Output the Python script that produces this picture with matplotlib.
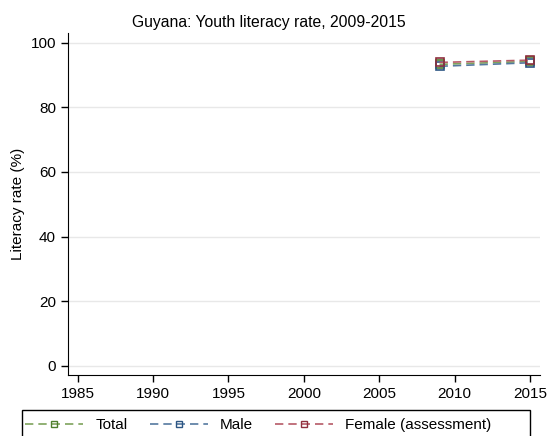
import matplotlib
matplotlib.use("Agg")
import matplotlib.pyplot as plt
from matplotlib.lines import Line2D
from matplotlib.patches import Rectangle

years = [2009, 2015]
total = [93.3, 94.2]
male = [92.7, 93.8]
female = [93.9, 94.6]

# name, values, line colour, marker colour
series = [
    ("Total", total, "#7ea35c", "#4d7d2c"),
    ("Male", male, "#55799f", "#2c5583"),
    ("Female (assessment)", female, "#b65a67", "#8e2f3d"),
]

plt.rcParams["font.family"] = ["Liberation Sans", "DejaVu Sans"]

W, H = 549, 436
fig = plt.figure(figsize=(W / 100, H / 100), dpi=100)
ax = fig.add_axes([0.1233, 0.1399, 0.8603, 0.7851])

dash = (0, (5, 3))
for name, vals, col, mcol in series:
    ax.plot(years, vals, linestyle=dash, color=col, linewidth=1.2,
            marker="s", markersize=6, markerfacecolor="none",
            markeredgecolor=mcol, markeredgewidth=1.2)

ax.set_xlim(1984.34, 2015.66)
ax.set_ylim(-2.88, 103.1)
ax.set_xticks([1985, 1990, 1995, 2000, 2005, 2010, 2015])
ax.set_yticks([0, 20, 40, 60, 80, 100])
ax.yaxis.grid(True, color="#e8e8e8", linewidth=1)
ax.set_axisbelow(True)
for s in ["top", "right"]:
    ax.spines[s].set_visible(False)
ax.tick_params(labelsize=11, length=5, width=1)
ax.set_ylabel("Literacy rate (%)", fontsize=11)
fig.text(268.5 / W, 1 - 22 / H, "Guyana: Youth literacy rate, 2009-2015",
         fontsize=11.3, ha="center", va="center")

# legend frame runs off the bottom edge, as in the reference
fig.patches.append(Rectangle((22 / W, -10 / H), 508 / W, 36 / H,
                             transform=fig.transFigure, fill=False,
                             edgecolor="black", linewidth=1))
handles = [Line2D([0], [0], linestyle=dash, color=c, linewidth=1.2,
                  marker="s", markersize=5, markerfacecolor="none",
                  markeredgecolor=mc) for _, _, c, mc in series]
fig.legend(handles, [s[0] for s in series], loc="center left",
           bbox_to_anchor=(25 / W, 11 / H), ncol=3, frameon=False,
           fontsize=11, handlelength=3.8, handletextpad=0.8,
           columnspacing=1.45, borderaxespad=0, borderpad=0)

fig.savefig("out.png", dpi=100)
